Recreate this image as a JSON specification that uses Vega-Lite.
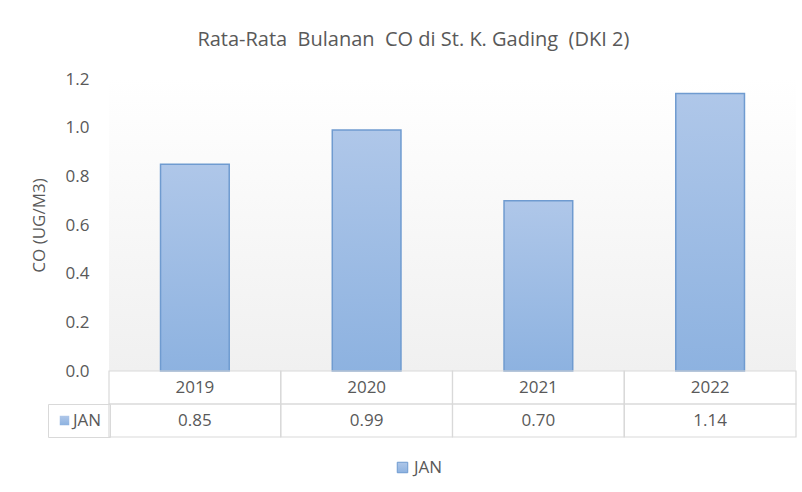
{
  "$schema": "https://vega.github.io/schema/vega-lite/v6.json",
  "padding": {"left": 30, "top": 30, "right": 5, "bottom": 5},
  "background": "white",
  "title": {
    "text": "Rata-Rata\u00a0 Bulanan\u00a0 CO di St. K. Gading\u00a0 (DKI 2)",
    "fontSize": 20,
    "fontWeight": "normal",
    "color": "#595959",
    "anchor": "middle",
    "offset": 20
  },
  "data": {
    "values": [
      {"year": "2019", "series": "JAN", "value": 0.85},
      {"year": "2020", "series": "JAN", "value": 0.99},
      {"year": "2021", "series": "JAN", "value": 0.70},
      {"year": "2022", "series": "JAN", "value": 1.14}
    ]
  },
  "spacing": 0,
  "bounds": "flush",
  "vconcat": [
    {
      "width": 687,
      "height": 292,
      "layer": [
        {
          "mark": {
            "type": "rect",
            "fill": {
              "gradient": "linear", "x1": 0, "y1": 0, "x2": 0, "y2": 1,
              "stops": [{"offset": 0, "color": "#ffffff"}, {"offset": 1, "color": "#f0f0f0"}]
            }
          },
          "encoding": {}
        },
        {
          "mark": {
            "type": "bar",
            "fill": {
              "gradient": "linear", "x1": 0, "y1": 0, "x2": 0, "y2": 1,
              "stops": [{"offset": 0, "color": "#afc7e9"}, {"offset": 1, "color": "#8db2e0"}]
            },
            "strokeWidth": 1.5
          },
          "encoding": {
            "x": {
              "field": "year", "type": "nominal",
              "scale": {"paddingInner": 0.6, "paddingOuter": 0.3},
              "axis": null
            },
            "y": {
              "field": "value", "type": "quantitative",
              "scale": {"domain": [0, 1.2]},
              "axis": {
                "values": [0, 0.2, 0.4, 0.6, 0.8, 1.0, 1.2],
                "format": ".1f",
                "domain": false, "ticks": false, "grid": false,
                "labelFontSize": 17, "labelColor": "#595959", "labelPadding": 20,
                "title": "CO (UG/M3)", "titleFontSize": 17, "titleFontWeight": "normal",
                "titleColor": "#595959", "titlePadding": 17
              }
            },
            "stroke": {
              "field": "series", "type": "nominal",
              "scale": {"range": ["#6f9bd0"]},
              "legend": {
                "orient": "none", "legendX": 285, "legendY": 380,
                "title": null, "symbolType": "square", "symbolSize": 110,
                "symbolFillColor": "#a9c4eb", "symbolStrokeWidth": 1,
                "labelFontSize": 17, "labelColor": "#595959", "labelOffset": 3
              }
            },
            "opacity": {
              "datum": "JAN", "type": "ordinal",
              "scale": {"range": [1, 1]},
              "legend": {
                "orient": "none", "legendX": -61, "legendY": 325,
                "title": null, "symbolType": "square", "symbolSize": 90,
                "symbolFillColor": "#a9c4eb", "symbolStrokeColor": "#6f9bd0", "symbolStrokeWidth": 1,
                "strokeColor": "#d9d9d9", "padding": 8,
                "labelFontSize": 17, "labelColor": "#595959", "labelOffset": 0
              }
            }
          }
        }
      ]
    },
    {
      "width": 687,
      "height": 66,
      "encoding": {
        "x": {
          "field": "year", "type": "nominal",
          "scale": {"paddingInner": 0, "paddingOuter": 0},
          "axis": null
        }
      },
      "layer": [
        {
          "mark": {"type": "rect", "fill": "transparent", "stroke": "#d9d9d9", "strokeWidth": 1.2},
          "encoding": {
            "y": {"datum": "Tahun", "type": "nominal", "scale": {"domain": ["Tahun", "JAN"], "paddingInner": 0, "paddingOuter": 0}, "axis": null}
          }
        },
        {
          "mark": {"type": "rect", "fill": "transparent", "stroke": "#d9d9d9", "strokeWidth": 1.2},
          "encoding": {
            "y": {"datum": "JAN", "type": "nominal", "axis": null}
          }
        },
        {
          "mark": {"type": "text", "fontSize": 17, "color": "#595959"},
          "encoding": {
            "y": {"datum": "Tahun", "type": "nominal", "axis": null},
            "text": {"field": "year"}
          }
        },
        {
          "mark": {"type": "text", "fontSize": 17, "color": "#595959"},
          "encoding": {
            "y": {"datum": "JAN", "type": "nominal", "axis": null},
            "text": {"field": "value", "format": ".2f"}
          }
        }
      ]
    }
  ],
  "resolve": {
    "scale": {"opacity": "independent", "stroke": "independent"},
    "legend": {"opacity": "independent", "stroke": "independent"}
  },
  "config": {
    "font": "Open Sans",
    "view": {"stroke": null}
  }
}
